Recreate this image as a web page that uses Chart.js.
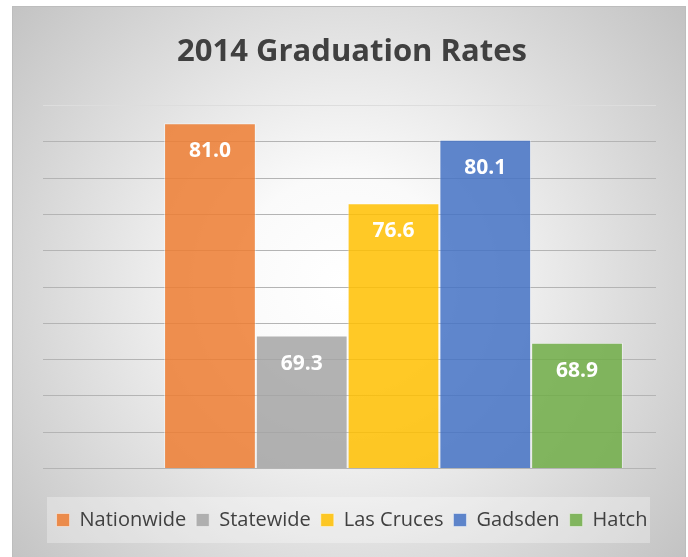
<!DOCTYPE html>
<html>
<head>
<meta charset="utf-8">
<title>2014 Graduation Rates</title>
<script src="https://cdn.jsdelivr.net/npm/chart.js@4.4.1/dist/chart.umd.min.js"></script>
<style>
  html, body { margin: 0; padding: 0; background: #ffffff; }
  canvas { display: block; }
</style>
</head>
<body>
<canvas id="gradChart" width="688" height="557"></canvas>
<script>
// Data
var categories = ['2014'];
var seriesNames = ['Nationwide', 'Statewide', 'Las Cruces', 'Gadsden', 'Hatch'];
var seriesValues = [81.0, 69.3, 76.6, 80.1, 68.9];
var yTickValues = [62, 64, 66, 68, 70, 72, 74, 76, 78, 80, 82];

// Office-like palette, slightly see-through so the grid shows
var fillColors = [
  'rgba(237, 125, 49, 0.85)',
  'rgba(165, 165, 165, 0.85)',
  'rgba(255, 192, 0, 0.85)',
  'rgba(68, 114, 196, 0.85)',
  'rgba(112, 173, 71, 0.85)'
];

var fontName = '"Open Sans", "DejaVu Sans", sans-serif';

// frame with radial grey gradient
var frameBackground = {
  id: 'frameBackground',
  beforeDraw: function(chart) {
    var ctx = chart.ctx;
    ctx.save();
    ctx.fillStyle = '#ffffff';
    ctx.fillRect(0, 0, chart.width, chart.height);
    var g = ctx.createRadialGradient(345, 285, 0, 345, 285, 440);
    g.addColorStop(0, '#ffffff');
    g.addColorStop(0.25, '#fafafa');
    g.addColorStop(1, '#c2c2c2');
    ctx.fillStyle = g;
    ctx.fillRect(12, 6, 674, chart.height - 6);
    ctx.strokeStyle = '#bdbdbd';
    ctx.lineWidth = 1;
    ctx.strokeRect(12.5, 6.5, 673, chart.height);

    // legend panel
    var lg = chart.legend;
    if (lg) {
      var cy = lg.top + 20;
      ctx.fillStyle = 'rgba(255, 255, 255, 0.3)';
      ctx.fillRect(47, cy - 23, 603, 46);
    }
    ctx.restore();
  }
};

// horizontal grid, drawn wider than the bar area like the original
var wideGrid = {
  id: 'wideGrid',
  beforeDatasetsDraw: function(chart) {
    var ctx = chart.ctx;
    var area = chart.chartArea;
    var yScale = chart.scales.y;
    ctx.save();
    ctx.lineWidth = 1.2;
    yTickValues.forEach(function(v, i) {
      var y = Math.round(yScale.getPixelForValue(v)) + 0.5;
      ctx.strokeStyle = (i === yTickValues.length - 1) ? '#dddddd' : '#b4b4b4';
      ctx.beginPath();
      ctx.moveTo(area.left - 88, y);
      ctx.lineTo(area.right, y);
      ctx.stroke();
    });
    ctx.restore();
  }
};

// value labels inside the top of each bar
var barValues = {
  id: 'barValues',
  afterDatasetsDraw: function(chart) {
    var ctx = chart.ctx;
    ctx.save();
    ctx.fillStyle = '#ffffff';
    ctx.font = 'bold 21px ' + fontName;
    ctx.textAlign = 'center';
    ctx.textBaseline = 'middle';
    chart.data.datasets.forEach(function(ds, i) {
      var meta = chart.getDatasetMeta(i);
      meta.data.forEach(function(bar, j) {
        ctx.fillText(ds.data[j].toFixed(1), bar.x, bar.y + 28);
      });
    });
    ctx.restore();
  }
};

var datasets = [];
for (var i = 0; i < seriesNames.length; i++) {
  datasets.push({
    label: seriesNames[i],
    data: [seriesValues[i]],
    backgroundColor: fillColors[i],
    borderColor: 'rgba(255, 255, 255, 0.45)',
    borderWidth: 1
  });
}

var chart = new Chart(document.getElementById('gradChart'), {
  type: 'bar',
  data: {
    labels: categories,
    datasets: datasets
  },
  options: {
    responsive: false,
    animation: false,
    layout: {
      padding: { left: 20, right: 4, top: 0, bottom: 17 }
    },
    datasets: {
      bar: {
        categoryPercentage: 0.874,
        barPercentage: 1.0
      }
    },
    scales: {
      x: {
        grid: { display: false },
        border: { display: false },
        ticks: { display: false },
        afterFit: function(scale) { scale.height = 32; }
      },
      y: {
        min: yTickValues[0],
        max: yTickValues[yTickValues.length - 1],
        ticks: { display: false, stepSize: 2 },
        grid: { display: false },
        border: { display: false },
        afterFit: function(scale) { scale.width = 111; }
      },
      // empty right axis, only keeps the plot edge where the original has it
      yRight: {
        position: 'right',
        min: yTickValues[0],
        max: yTickValues[yTickValues.length - 1],
        ticks: { display: false },
        grid: { display: false },
        border: { display: false },
        afterFit: function(scale) { scale.width = 28; }
      }
    },
    plugins: {
      title: {
        display: true,
        text: '2014 Graduation Rates',
        color: '#404040',
        font: { family: fontName, size: 31, weight: 'bold' },
        padding: { top: 34, bottom: 34 }
      },
      legend: {
        position: 'bottom',
        labels: {
          color: '#404040',
          font: { family: fontName, size: 20 },
          boxWidth: 13,
          boxHeight: 13,
          padding: 10
        }
      },
      tooltip: { enabled: false }
    }
  },
  plugins: [frameBackground, wideGrid, barValues]
});
</script>
</body>
</html>
